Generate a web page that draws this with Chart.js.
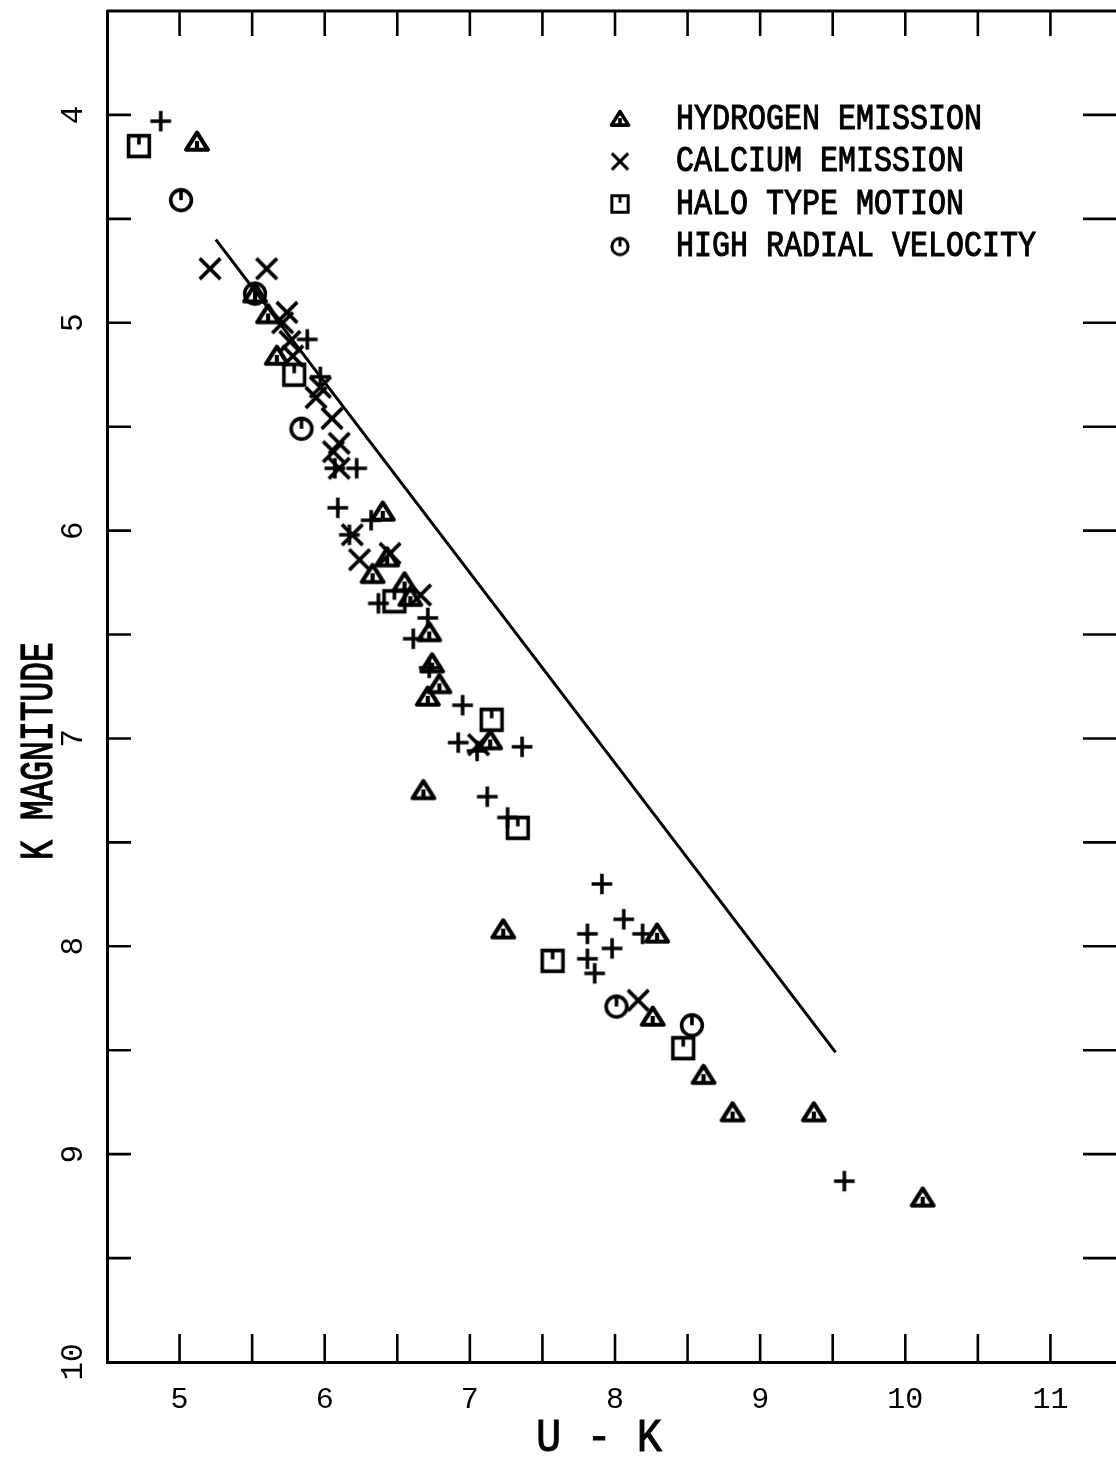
<!DOCTYPE html>
<html>
<head>
<meta charset="utf-8">
<script src="https://cdn.jsdelivr.net/npm/chart.js@4"></script>
<style>
  html, body { margin: 0; padding: 0; background: #fff; overflow: hidden; }
  canvas { display: block; }
</style>
</head>
<body>
<canvas id="chart" width="1134" height="1458"></canvas>
<script>
// U - K colour (x) and K magnitude (y), one pair of arrays per star group
const hydrogenX = [5.12, 5.52, 5.61, 5.67, 6.40, 6.43, 6.33, 6.55, 6.59, 6.72, 6.74, 6.79, 6.71, 7.14, 6.68, 7.23, 8.29, 8.26, 8.61, 8.81, 9.37, 10.12];
const hydrogenY = [4.13, 4.86, 4.96, 5.16, 5.91, 6.13, 6.21, 6.25, 6.32, 6.49, 6.64, 6.74, 6.80, 7.01, 7.25, 7.92, 7.94, 8.34, 8.62, 8.80, 8.80, 9.21];

const calciumX = [5.21, 5.60, 5.74, 5.71, 5.76, 5.78, 5.97, 5.94, 6.05, 6.10, 6.06, 6.10, 6.19, 6.24, 6.45, 6.66, 7.06, 8.16];
const calciumY = [4.74, 4.74, 4.95, 5.00, 5.09, 5.16, 5.31, 5.36, 5.46, 5.58, 5.62, 5.70, 6.02, 6.14, 6.11, 6.31, 7.03, 8.26];

const haloX = [4.72, 5.79, 6.48, 7.15, 7.33, 7.57, 8.47];
const haloY = [4.15, 5.25, 6.34, 6.91, 7.43, 8.07, 8.49];

const radialX = [5.01, 5.52, 5.84, 8.01, 8.53];
const radialY = [4.41, 4.86, 5.51, 8.29, 8.38];

// stars with no special property (plain plus signs)
const otherX = [4.87, 5.88, 5.97, 6.07, 6.22, 6.09, 6.32, 6.17, 6.37, 6.71, 6.61, 6.72, 6.95, 6.92, 7.05, 7.36, 7.12, 7.26, 7.91, 8.06, 7.81, 8.19, 7.98, 7.81, 7.86, 9.58];
const otherY = [4.03, 5.08, 5.26, 5.70, 5.70, 5.89, 5.95, 6.02, 6.35, 6.42, 6.52, 6.66, 6.84, 7.02, 7.06, 7.04, 7.28, 7.38, 7.70, 7.87, 7.94, 7.94, 8.01, 8.06, 8.13, 9.13];

// reference line
const lineX = [5.25, 9.52];
const lineY = [4.60, 8.51];

const xTicks = [5, 6, 7, 8, 9, 10, 11];
const yTicks = [4, 5, 6, 7, 8, 9, 10];
const minorStep = 0.5;

const xTitle = 'U - K';
const yTitle = 'K MAGNITUDE';
const seriesNames = ['HYDROGEN EMISSION', 'CALCIUM EMISSION', 'HALO TYPE MOTION', 'HIGH RADIAL VELOCITY'];

const MONO = '"Liberation Mono", "DejaVu Sans Mono", monospace';

function pts(xs, ys) {
  return xs.map((x, i) => ({ x: x, y: ys[i] }));
}

// plotter style symbols drawn once into small canvases
function makeMarker(kind, size, lw) {
  const c = document.createElement('canvas');
  c.width = c.height = size;
  const g = c.getContext('2d');
  const m = size / 2;
  const r = size * 0.37;
  g.strokeStyle = '#000';
  g.lineWidth = lw;
  g.beginPath();
  if (kind === 'tri') {
    g.lineWidth = lw + 0.6;
    g.lineJoin = 'round';
    g.moveTo(m, m - r * 0.9);
    g.lineTo(m + r * 1.05, m + r * 0.75);
    g.lineTo(m - r * 1.05, m + r * 0.75);
    g.closePath();
    g.stroke();
    g.beginPath();
    g.moveTo(m, m - r * 0.1);
    g.lineTo(m, m + r * 0.75);
  } else if (kind === 'x') {
    g.moveTo(m - r, m - r); g.lineTo(m + r, m + r);
    g.moveTo(m + r, m - r); g.lineTo(m - r, m + r);
  } else if (kind === 'sq') {
    g.rect(m - r, m - r, 2 * r, 2 * r);
    g.moveTo(m, m - r); g.lineTo(m, m - r * 0.15);
  } else if (kind === 'ci') {
    g.arc(m, m, r, 0, Math.PI * 2);
    g.moveTo(m, m - r); g.lineTo(m, m);
  } else {
    g.moveTo(m - r, m); g.lineTo(m + r, m);
    g.moveTo(m, m - r); g.lineTo(m, m + r);
  }
  g.stroke();
  return c;
}

const markers = ['tri', 'x', 'sq', 'ci', 'plus'].map(k => makeMarker(k, 28, 3.6));
const legendMarkers = ['tri', 'x', 'sq', 'ci'].map(k => makeMarker(k, 22, 3));

// frame, top border and inward tick marks on all four sides
const framePlugin = {
  id: 'frame',
  beforeDatasetsDraw(chart) {
    const { ctx, chartArea: a, scales: { x, y } } = chart;
    ctx.save();
    ctx.strokeStyle = '#000';
    ctx.lineWidth = 3;
    ctx.beginPath();
    ctx.moveTo(a.left, a.top);
    ctx.lineTo(a.right, a.top);
    ctx.lineTo(a.right, a.bottom);
    ctx.stroke();
    ctx.lineWidth = 2.6;
    ctx.beginPath();
    for (let v = x.min + minorStep; v < x.max; v += minorStep) {
      const px = x.getPixelForValue(v);
      ctx.moveTo(px, a.top); ctx.lineTo(px, a.top + 25);
      ctx.moveTo(px, a.bottom); ctx.lineTo(px, a.bottom - 28);
    }
    for (let v = y.min + minorStep; v < y.max; v += minorStep) {
      const py = y.getPixelForValue(v);
      ctx.moveTo(a.left, py); ctx.lineTo(a.left + 24, py);
      ctx.moveTo(a.right, py); ctx.lineTo(a.right - 40, py);
    }
    ctx.stroke();
    ctx.restore();
  }
};

// stretched mono text, close to the tall narrow plotter lettering
function plotterText(ctx, text, x, y, size, stretch, angle) {
  ctx.save();
  ctx.translate(x, y);
  ctx.rotate(angle);
  ctx.scale(1, stretch);
  ctx.font = size + 'px ' + MONO;
  ctx.lineWidth = 0.9;
  ctx.fillText(text, 0, 0);
  ctx.strokeText(text, 0, 0);
  ctx.restore();
}

// axis titles and key in the upper right corner
const textPlugin = {
  id: 'texts',
  afterDraw(chart) {
    const ctx = chart.ctx;
    ctx.save();
    ctx.fillStyle = '#000';
    ctx.strokeStyle = '#000';
    ctx.textBaseline = 'middle';
    ctx.textAlign = 'center';
    plotterText(ctx, xTitle, 599, 1439, 42, 1.1, 0);
    plotterText(ctx, yTitle, 40, 751, 33, 1.4, -Math.PI / 2);
    ctx.textAlign = 'left';
    seriesNames.forEach((name, i) => {
      const rowY = 119 + i * 42.5;
      const mk = legendMarkers[i];
      ctx.drawImage(mk, 620 - mk.width / 2, rowY - mk.height / 2);
      plotterText(ctx, name, 676, rowY, 30, 1.2, 0);
    });
    ctx.restore();
  }
};

function scatterSet(label, xs, ys, marker) {
  return {
    label: label,
    data: pts(xs, ys),
    pointStyle: marker,
    pointRadius: 10,
    showLine: false
  };
}

function noPad(s) {
  s.paddingTop = 0;
  s.paddingBottom = 0;
  s.paddingLeft = 0;
  s.paddingRight = 0;
}

new Chart(document.getElementById('chart'), {
  type: 'scatter',
  data: {
    datasets: [
      {
        label: 'line',
        data: pts(lineX, lineY),
        showLine: true,
        borderColor: '#000',
        borderWidth: 3,
        pointRadius: 0
      },
      scatterSet(seriesNames[0], hydrogenX, hydrogenY, markers[0]),
      scatterSet(seriesNames[1], calciumX, calciumY, markers[1]),
      scatterSet(seriesNames[2], haloX, haloY, markers[2]),
      scatterSet(seriesNames[3], radialX, radialY, markers[3]),
      scatterSet('other', otherX, otherY, markers[4])
    ]
  },
  options: {
    responsive: false,
    animation: false,
    events: [],
    layout: { padding: { top: 10, right: 1, left: 0, bottom: 0 } },
    plugins: {
      legend: { display: false },
      tooltip: { enabled: false }
    },
    scales: {
      x: {
        type: 'linear',
        min: 4.5,
        max: 11.5,
        afterFit: s => { s.height = 96; noPad(s); },
        afterBuildTicks: s => { s.ticks = xTicks.map(v => ({ value: v })); },
        grid: { display: false },
        border: { display: true, color: '#000', width: 3 },
        ticks: { color: '#000', padding: 12, font: { family: MONO, size: 30 } }
      },
      y: {
        type: 'linear',
        min: 3.5,
        max: 10,
        reverse: true,
        afterFit: s => { s.width = 107; noPad(s); },
        afterBuildTicks: s => { s.ticks = yTicks.map(v => ({ value: v })); },
        grid: { display: false },
        border: { display: true, color: '#000', width: 3 },
        ticks: {
          color: '#000',
          padding: 7,
          crossAlign: 'center',
          minRotation: 90,
          maxRotation: 90,
          font: { family: MONO, size: 31 }
        }
      }
    }
  },
  plugins: [framePlugin, textPlugin]
});
</script>
</body>
</html>
